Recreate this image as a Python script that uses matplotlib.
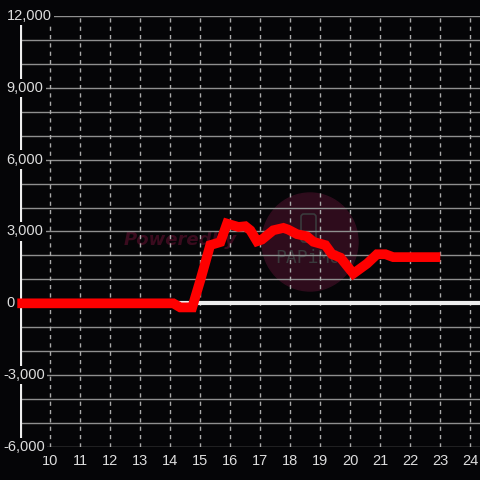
import matplotlib
matplotlib.use("Agg")
import matplotlib.pyplot as plt
import matplotlib.patches as mpatches
import matplotlib.transforms as mtransforms

# datos
horas = [8.9, 14.1, 14.33, 14.73, 15.0, 15.33, 15.67, 15.89, 16.27, 16.5, 16.67, 16.89,
         17.05, 17.43, 17.77, 17.93, 18.22, 18.55, 18.77, 19.17, 19.39, 19.67, 20.1,
         20.56, 20.89, 21.17, 21.43, 23.0]
valores = [0, 0, -170, -170, 960, 2430, 2560, 3330, 3190, 3220, 3050, 2590,
           2660, 3050, 3150, 3080, 2890, 2800, 2570, 2430, 2050, 1910, 1240,
           1660, 2050, 2050, 1930, 1930]

xticks = list(range(10, 25))
yticks = [12000, 9000, 6000, 3000, 0, -3000, -6000]
ygrid = list(range(-6000, 12001, 1000))

fondo = "#050507"
texto = "#dddddd"

fig = plt.figure(figsize=(4.8, 4.8), dpi=100, facecolor=fondo)
ax = fig.add_axes([20.3 / 480, 1 - 447 / 480, 1 - 20.3 / 480, (447 - 16) / 480])
ax.set_facecolor(fondo)
ax.set_xlim(9.0, 9.0 + (480 - 20.3) / 30)
ax.set_ylim(-6000, 12000)
for s in ax.spines.values():
    s.set_visible(False)
ax.set_xticks([])
ax.set_yticks([])

# marca de agua (detras de todo)
ff = fig.transFigure
ax.add_patch(mpatches.Ellipse((310 / 480, 1 - 242 / 480), 96 / 480, 98 / 480,
                              transform=ff, color="#2e0c1c", zorder=0.2))
ax.add_patch(mpatches.FancyBboxPatch((301 / 480, 1 - 242 / 480), 15 / 480, 28 / 480,
                                     boxstyle="round,pad=0,rounding_size=0.006",
                                     transform=ff, fc="none", ec="#3a3a3c", lw=1.2,
                                     zorder=0.3))
ax.text(180 / 480, 1 - 240 / 480, "Poweredby", transform=ff, color="#3a0b1e",
        fontsize=13, fontweight="bold", style="italic", ha="center", va="center",
        zorder=0.4)
ax.text(308 / 480, 1 - 258 / 480, "PAPiMO", transform=ff, color="#3a3a3c",
        fontsize=13, family="DejaVu Sans Mono", ha="center", va="center", zorder=0.4)

# rejilla
for g in ygrid:
    if g != 0:
        ax.axhline(g, color="#8f8f8f", lw=1, zorder=1)
for x in xticks:
    ax.axvline(x, color="#aaaaaa", lw=1, ls=(0, (3, 3)), zorder=1)

ax.axhline(0, color="#eeeeee", lw=3, zorder=2)
ax.axvline(9.0, color="#eeeeee", lw=3, zorder=2)

ax.plot(horas, valores, color="#ff0000", lw=7, solid_capstyle="butt",
        solid_joinstyle="miter", zorder=3, clip_on=False)

# etiquetas
trans = mtransforms.blended_transform_factory(fig.transFigure, ax.transData)
for v in yticks:
    xpos = 3 if v < 0 else 6.5
    ax.text(xpos / 480, v, f"{v:,}", transform=trans, color=texto, fontsize=10.5,
            family="Liberation Sans", ha="left", va="center", zorder=5, clip_on=False,
            bbox=dict(boxstyle="square,pad=0.15", fc=fondo, ec="none"))
trans_x = mtransforms.blended_transform_factory(ax.transData, fig.transFigure)
for x in xticks:
    ax.text(x, 1 - 461 / 480, str(x), transform=trans_x, color=texto, fontsize=10.5,
            family="Liberation Sans", ha="center", va="center", clip_on=False)

fig.savefig("out.png", dpi=100, facecolor=fondo)
